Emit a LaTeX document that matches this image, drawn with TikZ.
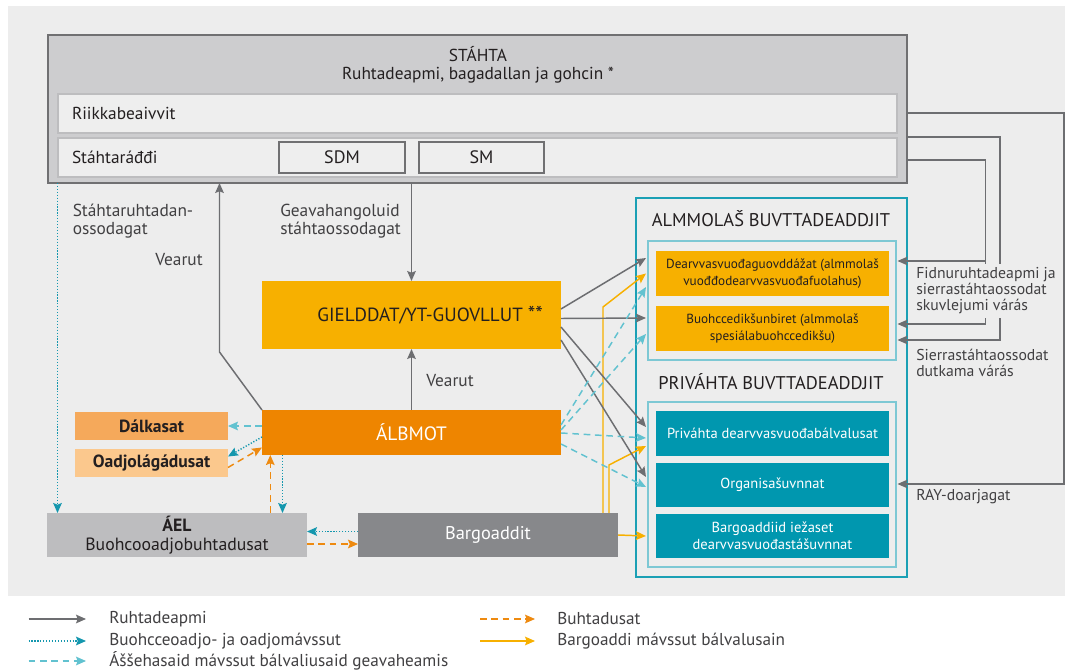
\documentclass[tikz,border=0pt]{standalone}
\usepackage{fontspec}
\setmainfont{PT Sans}
\usetikzlibrary{arrows.meta,calc}
\definecolor{bgc}{HTML}{EDEDED}
\definecolor{stfill}{HTML}{CDCDCF}
\definecolor{stdraw}{HTML}{707072}
\definecolor{rowfill}{HTML}{EEEEEE}
\definecolor{rowdraw}{HTML}{BDBDBF}
\definecolor{arrgray}{HTML}{6D6E71}
\definecolor{tealdk}{HTML}{1497AE}
\definecolor{teallt}{HTML}{62C2D0}
\definecolor{orng}{HTML}{EE8A10}
\definecolor{yell}{HTML}{F7B000}
\definecolor{gfill}{HTML}{F7B000}
\definecolor{afill}{HTML}{EE8500}
\definecolor{dfill}{HTML}{F5A95B}
\definecolor{ofill}{HTML}{FBC88D}
\definecolor{aelfill}{HTML}{BDBDBF}
\definecolor{bfill}{HTML}{87888B}
\definecolor{tbox}{HTML}{0097AF}
\definecolor{frm}{HTML}{1BA0B5}
\definecolor{frmlt}{HTML}{7DC8D4}
\definecolor{txt}{HTML}{231F20}
\definecolor{lab}{HTML}{414042}
\newcommand\mkbox[7]{%
  \pgfmathsetmacro\mkw{(#4-#2)*0.75}\pgfmathsetmacro\mkh{(#5-#3)*0.75}%
  \node[#6, minimum width=\mkw pt, minimum height=\mkh pt] (#1) at ({(#2+#4)/2},{(#3+#5)/2}) {#7};}
\tikzset{
  base/.style={rectangle, inner sep=0pt, outer sep=0pt, align=center, text=txt},
  tip/.style={-{Stealth[length=7.5pt,width=6.5pt,inset=1.3pt]}},
  ga/.style={draw=arrgray, line width=1.1pt, tip},
  tdot/.style={draw=tealdk, line width=1.1pt, dash pattern=on 0.9pt off 1.3pt, tip},
  tdash/.style={draw=teallt, line width=1.1pt, dash pattern=on 5pt off 3.5pt, tip},
  odash/.style={draw=orng, line width=1.1pt, dash pattern=on 5pt off 3.5pt, tip},
  ysol/.style={draw=yell, line width=1.1pt, tip},
  lbl/.style={inner sep=0pt, align=left, text=lab, font=\fontsize{13}{13.5}\selectfont},
  rlbl/.style={inner xsep=0pt, inner ysep=2.5pt, align=left, text=lab, fill=bgc, font=\fontsize{11.8}{12}\selectfont},
  leg/.style={inner sep=0pt, anchor=west, text=lab, font=\fontsize{12.9}{13}\selectfont},
  big/.style={font=\fontsize{13}{13.5}\selectfont},
  head/.style={font=\fontsize{13.8}{14}\selectfont},
  small/.style={font=\fontsize{9.9}{13}\selectfont},
  mid/.style={font=\fontsize{10.9}{13}\selectfont},
}
\begin{document}
\begin{tikzpicture}[x=0.75pt,y=-0.75pt]
\useasboundingbox (0,0) rectangle (1065,670);
\fill[white] (0,0) rectangle (1065,670);
\fill[bgc] (8,6) rectangle (1065,596);
% STAHTA
\mkbox{st}{48}{35}{907}{183}{base,fill=stfill,draw=stdraw,line width=1.2pt}{}
\node[base,big] (sttitle) at (478,65) {STÁHTA\\Ruhtadeapmi, bagadallan ja gohcin *};
\mkbox{rk}{58}{94}{897}{133}{base,fill=rowfill,draw=rowdraw,line width=1pt}{}
\mkbox{sr}{58}{138}{897}{177}{base,fill=rowfill,draw=rowdraw,line width=1pt}{}
\node[base,big,anchor=west] (rkt) at (72,113) {Riikkabeaivvit};
\node[base,big,anchor=west] (srt) at (72,157) {Stáhtaráđđi};
\mkbox{sdm}{279}{142}{405}{173}{base,font=\fontsize{13.5}{14}\selectfont,fill=rowfill,draw=stdraw,line width=0.9pt}{SDM}
\mkbox{sm}{419}{142}{544}{173}{base,font=\fontsize{13.5}{14}\selectfont,fill=rowfill,draw=stdraw,line width=0.9pt}{SM}
% municipal etc
\mkbox{gd}{262}{281}{561}{349}{base,fill=gfill,font=\fontsize{14.3}{15}\selectfont}{\rule{28pt}{0pt}GIELDDAT/YT-GUOVLLUT {\fontsize{16}{16}\selectfont**}}
\mkbox{al}{262}{410}{561}{455}{base,fill=afill,text=white,font=\fontsize{14.5}{15}\selectfont}{ÁLBMOT}
\mkbox{dk}{75}{412}{228}{440}{base,font=\fontsize{13.2}{14}\selectfont,fill=dfill}{\bfseries Dálkasat}
\mkbox{oj}{75}{449}{228}{477}{base,font=\fontsize{13.2}{14}\selectfont,fill=ofill}{\bfseries Oadjolágádusat}
\mkbox{ael}{47}{513}{307}{557}{base,fill=aelfill,font=\fontsize{13.3}{14}\selectfont}{\textbf{ÁEL}\\Buohcooadjobuhtadusat}
\mkbox{bg}{358}{513}{618}{557}{base,font=\fontsize{13.8}{14}\selectfont,fill=bfill,text=white}{Bargoaddit}
% panel
\mkbox{pnl}{636}{198}{907}{577}{base,draw=frm,line width=1.3pt}{}
\node[base,head] (pubh) at (771,219) {ALMMOLAŠ BUVTTADEADDJIT};
\mkbox{pub}{648}{241}{896}{360}{base,draw=frmlt,line width=1pt}{}
\mkbox{dg}{656}{251}{889}{296}{base,small,fill=gfill}{Dearvvasvuođaguovddážat (almmolaš\\vuođđodearvvasvuođafuolahus)}
\mkbox{bb}{656}{306}{889}{351}{base,small,fill=gfill}{Buohccedikšunbiret (almmolaš\\spesiálabuohccedikšu)}
\node[base,head] (prih) at (771,382) {PRIVÁHTA BUVTTADEADDJIT};
\mkbox{pri}{648}{402}{896}{567}{base,draw=frmlt,line width=1pt}{}
\mkbox{pv}{656}{411}{889}{456}{base,mid,fill=tbox,text=white}{Priváhta dearvvasvuođabálvalusat}
\mkbox{org}{656}{463}{889}{507}{base,mid,fill=tbox,text=white}{Organisašuvnnat}
\mkbox{bgs}{656}{514}{889}{558}{base,mid,fill=tbox,text=white}{Bargoaddiid iežaset\\dearvvasvuođastášuvnnat}
% connectors top
\draw[ga] (gd.north |- st.south) -- (gd.north);
\draw[ga] (al.north) -- (gd.south);
\coordinate (vbend) at ($(al.north west)+(-42.5,-58)$);
\draw[ga] (al.north west) -- (vbend) -- (vbend |- st.south);
\coordinate (aeltop) at ($(ael.north west)+(10.5,0)$);
\draw[tdot] (aeltop |- st.south) -- (aeltop);
% around ALBMOT
\draw[tdash] (dk.east -| al.west) -- (dk.east);
\draw[tdot] ($(al.west)+(0,4.5)$) -- ($(oj.north east)+(0,7.5)$);
\draw[odash] ($(oj.south east)+(0,-9.5)$) -- ($(al.south west)+(0,-7.5)$);
\coordinate (ou) at ($(al.south west)+(8.3,0)$);
\draw[odash] (ou |- ael.north) -- (ou);
\coordinate (td) at ($(al.south west)+(20.5,0)$);
\draw[tdot] (td) -- (td |- ael.north);
\draw[tdot] ($(bg.west)+(0,-3.5)$) -- ($(ael.east)+(0,-3.5)$);
\draw[odash] ($(ael.east)+(0,9)$) -- ($(bg.west)+(0,9)$);
% yellow
\draw[ysol] (bg.east) -- ($(bgs.west)+(-10,0)$);
\coordinate (ya) at ($(bg.north east)+(-15,0)$);
\draw[ysol] (ya) -- ($(ya)+(0,-206)$) -- ($(dg.west)+(-10,0)$);
\coordinate (yb) at ($(bg.north east)+(-9,0)$);
\draw[ysol] (yb) -- ($(yb)+(0,-48)$) -- ($(pv.west)+(-10,12.5)$);
% gray from GIELDDAT
\draw[ga] ($(gd.north east)+(0,28)$) -- ($(dg.west)+(-10,-15.5)$);
\draw[ga] ($(gd.north east)+(0,37.5)$) -- ($(bb.west)+(-10,-10.5)$);
\draw[ga] ($(gd.north east)+(0,46)$) -- ($(pv.west)+(-10,-6.5)$);
\draw[ga] ($(gd.north east)+(0,59)$) -- ($(org.west)+(-10,-8)$);
% light teal dashed from ALBMOT
\draw[tdash] ($(al.north east)+(0,15)$) -- ($(dg.west)+(-10,13.5)$);
\draw[tdash] ($(al.north east)+(0,20)$) -- ($(bb.west)+(-10,5.5)$);
\draw[tdash] ($(al.north east)+(0,23)$) -- ($(pv.west)+(-10,4.5)$);
\draw[tdash] ($(al.north east)+(0,34)$) -- ($(org.west)+(-10,2)$);
% right side from STAHTA
\coordinate (r1) at (1064,484);
\draw[ga] ($(st.north east)+(0,78)$) -| (r1) -- ($(org.east)+(8.5,-1)$);
\coordinate (r2) at (1000,340);
\draw[ga] ($(st.north east)+(0,102)$) -| (r2) -- ($(bb.east)+(8.5,11.5)$);
\coordinate (r3) at (985.5,324);
\draw[ga] ($(st.north east)+(0,125)$) -| (r3) -- ($(bb.east)+(8.5,-4.5)$);
\coordinate (r3b) at (985.5,261);
\draw[ga] (r3b) -- ($(dg.east)+(8.5,-12.5)$);
% labels
\node[lbl,anchor=west] (l1) at (72.5,221) {Stáhtaruhtadan-\\ossodagat};
\node[lbl,anchor=west] (l2) at (155,260) {Vearut};
\node[lbl,anchor=west] (l3) at (280,221) {Geavahangoluid\\stáhtaossodagat};
\node[lbl,anchor=west] (l4) at (426,381) {Vearut};
\node[rlbl,anchor=west] (l5) at (916,291) {Fidnuruhtadeapmi ja\\sierrastáhtaossodat\\skuvlejumi várás};
\node[rlbl,anchor=west] (l6) at (916,363) {Sierrastáhtaossodat\\dutkama várás};
\node[rlbl,anchor=west] (l7) at (916,497) {RAY-doarjagat};
% legend
\coordinate (la1) at (28.5,619); \coordinate (lb1) at (86,619);
\coordinate (la2) at (28.5,641); \coordinate (lb2) at (86,641);
\coordinate (la3) at (28.5,661); \coordinate (lb3) at (86,661);
\coordinate (la4) at (480,619); \coordinate (lb4) at (535,619);
\coordinate (la5) at (480,641); \coordinate (lb5) at (535,641);
\draw[ga] (la1) -- (lb1);
\draw[tdot] (la2) -- (lb2);
\draw[tdash] (la3) -- (lb3);
\draw[odash] (la4) -- (lb4);
\draw[ysol] (la5) -- (lb5);
\node[leg] (t1) at (109,619) {Ruhtadeapmi};
\node[leg] (t2) at (109,641) {Buohcceoadjo- ja oadjomávssut};
\node[leg] (t3) at (109,661) {Áššehasaid mávssut bálvaliusaid geavaheamis};
\node[leg] (t4) at (557,619) {Buhtadusat};
\node[leg] (t5) at (557,641) {Bargoaddi mávssut bálvalusain};
\end{tikzpicture}
\end{document}
